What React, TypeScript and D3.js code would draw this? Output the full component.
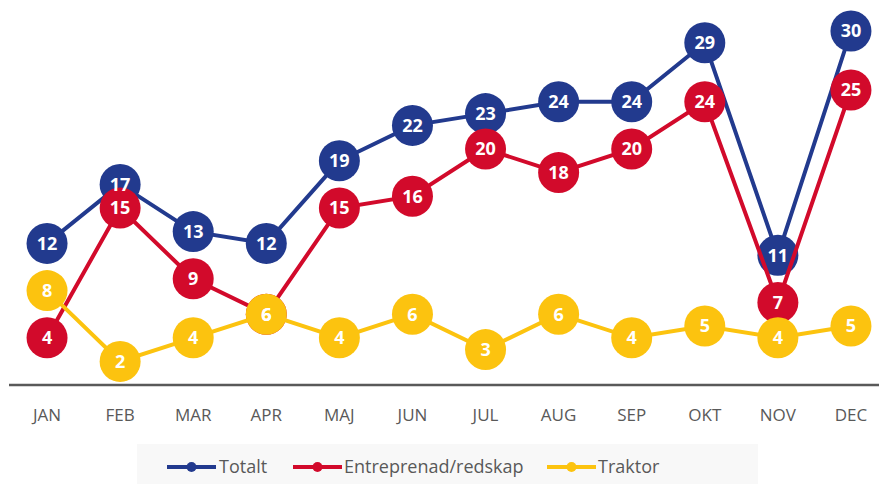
import React from "react";
import { scaleBand, scaleLinear, line } from "d3";

const months = ["JAN", "FEB", "MAR", "APR", "MAJ", "JUN", "JUL", "AUG", "SEP", "OKT", "NOV", "DEC"];
const totalt = [12, 17, 13, 12, 19, 22, 23, 24, 24, 29, 11, 30];
const entreprenad = [4, 15, 9, 6, 15, 16, 20, 18, 20, 24, 7, 25];
const traktor = [8, 2, 4, 6, 4, 6, 3, 6, 4, 5, 4, 5];

const series = [
  { name: "Totalt", values: totalt, color: "#223a8e" },
  { name: "Entreprenad/redskap", values: entreprenad, color: "#d20a2b" },
  { name: "Traktor", values: traktor, color: "#fcc30f" },
];

const W = 879;
const H = 484;

export default function App() {
  const x = scaleBand().domain(months).range([10.5, 887.5]);
  const y = scaleLinear().domain([0, 30]).range([385, 31]);
  const cx = (m: string) => (x(m) as number) + x.bandwidth() / 2;
  const path = line<number>()
    .x((_, i) => cx(months[i]))
    .y((d) => y(d));

  // legend slots: line start and text start
  const legendItems = [
    { s: series[0], lx: 167, tx: 219 },
    { s: series[1], lx: 293, tx: 344 },
    { s: series[2], lx: 547, tx: 598 },
  ];

  return (
    <svg
      width={W}
      height={H}
      style={{ position: "absolute", left: 0, top: 0, background: "#fff" }}
      fontFamily="'Open Sans', sans-serif"
    >
      <line x1={9} x2={W} y1={y(0)} y2={y(0)} stroke="#595959" strokeWidth={2.5} />
      {months.map((m) => (
        <text key={m} x={cx(m)} y={421} textAnchor="middle" fontSize={17} fill="#595959">
          {m}
        </text>
      ))}
      {series.map((s) => (
        <g key={s.name}>
          <path d={path(s.values) || ""} fill="none" stroke={s.color} strokeWidth={4} />
          {s.values.map((v, i) => (
            <circle key={i} cx={cx(months[i])} cy={y(v)} r={20.5} fill={s.color} />
          ))}
        </g>
      ))}
      {series.map((s) => (
        <g key={s.name + "-lbl"}>
          {s.values.map((v, i) => (
            <text
              key={i}
              x={cx(months[i])}
              y={y(v)}
              dy="0.36em"
              textAnchor="middle"
              fontSize={18}
              fontWeight="bold"
              fill="#fff"
            >
              {v}
            </text>
          ))}
        </g>
      ))}
      <rect x={137} y={444} width={621} height={40} fill="#f8f8f8" />
      {legendItems.map(({ s, lx, tx }) => (
        <g key={s.name + "-leg"}>
          <line x1={lx} x2={lx + 49} y1={467} y2={467} stroke={s.color} strokeWidth={4} />
          <circle cx={lx + 24.5} cy={467} r={5} fill={s.color} />
          <text x={tx} y={467} dy="0.36em" fontSize={18} fill="#595959">
            {s.name}
          </text>
        </g>
      ))}
    </svg>
  );
}
